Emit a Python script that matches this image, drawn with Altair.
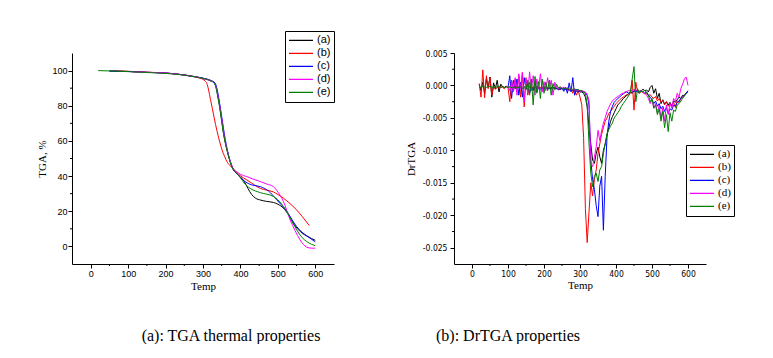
import altair as alt
import pandas as pd

SAMPLES = ["(a)", "(b)", "(c)", "(d)", "(e)"]
COLORS = ["#000000", "#ff0000", "#0000ff", "#ff00ff", "#008000"]

# ---------------- TGA curves (Temp, TGA %) ----------------
a_t = [50, 100, 150, 200, 250, 280, 300, 320, 330, 335, 340, 345, 350, 355, 360, 365, 370, 375, 380, 390,
       400, 410, 420, 430, 440, 455, 470, 488, 500, 515, 530, 541, 555, 565, 577, 590, 600]
a_v = [99.8, 99.5, 99.0, 98.6, 97.5, 96.5, 95.7, 94.3, 93.0, 90.5, 85.0, 79.0, 71.5, 64.0, 58.5, 54.0, 50.0, 46.5, 44.0, 41.5,
       39.5, 37.0, 33.0, 29.5, 27.5, 26.3, 25.6, 25.0, 24.0, 21.7, 17.5, 13.2, 9.5, 7.5, 6.0, 4.5, 3.5]
b_t = [60, 100, 150, 200, 250, 280, 300, 305, 310, 315, 320, 325, 330, 337, 344, 351, 358, 364, 372, 382,
       395, 408, 417, 430, 453, 470, 488, 500, 515, 530, 550, 565, 584]
b_v = [99.9, 99.6, 99.1, 98.6, 97.5, 96.3, 95.0, 94.2, 92.8, 89.0, 83.5, 78.5, 73.0, 66.0, 60.0, 54.8, 51.0, 48.2, 46.0, 43.9,
       41.0, 39.0, 37.8, 36.0, 33.0, 32.0, 31.0, 29.5, 27.4, 24.8, 20.8, 17.0, 11.9]
c_t = [50, 100, 150, 200, 250, 280, 300, 320, 332, 337, 342, 347, 352, 357, 362, 367, 372, 377, 382, 392,
       402, 415, 430, 453, 475, 497, 510, 524, 537, 550, 565, 586, 600]
c_v = [99.7, 99.5, 99.0, 98.6, 97.5, 96.5, 95.6, 94.5, 93.0, 90.0, 84.5, 78.0, 71.0, 64.0, 58.0, 53.0, 49.0, 46.0, 43.5, 41.0,
       38.8, 36.5, 35.0, 34.0, 31.5, 26.5, 23.5, 20.0, 15.5, 11.3, 8.0, 4.7, 2.6]
d_t = [110, 150, 200, 250, 280, 300, 320, 330, 335, 340, 345, 350, 355, 360, 365, 370, 375, 380, 390, 400,
       417, 435, 453, 470, 488, 500, 515, 533, 546, 559, 568, 577, 590, 600]
d_v = [99.3, 99.0, 98.6, 97.4, 96.4, 95.4, 94.2, 93.0, 90.5, 85.5, 79.5, 72.5, 65.0, 59.0, 54.5, 50.5, 47.0, 44.5, 42.5, 41.0,
       39.7, 38.2, 36.9, 35.5, 34.0, 31.0, 25.5, 15.0, 9.0, 3.8, 1.2, -0.4, -1.0, -1.0]
e_t = [20, 50, 100, 150, 200, 250, 280, 300, 320, 330, 335, 340, 345, 350, 355, 360, 365, 370, 375, 380,
       390, 400, 410, 426, 453, 488, 500, 515, 530, 550, 565, 577, 590, 600]
e_v = [100.0, 99.8, 99.4, 98.9, 98.4, 97.4, 96.4, 95.5, 94.2, 92.8, 90.0, 84.5, 78.5, 71.0, 64.0, 58.5, 54.0, 50.0, 46.5, 44.0,
       41.5, 39.0, 36.0, 33.0, 30.6, 28.4, 26.5, 22.7, 17.5, 9.5, 5.0, 2.8, 1.2, 0.4]

# ---------------- DrTGA curves (values in units of 0.001, 5-degree grid) ----------------
dr_step = 5
dr_start = [20, 20, 100, 100, 20]
dr_a = [0.2, -0.8, 0.5, -1.2, 1.0, -0.3, 1.3, -1.8, 0.4, -0.5, 0.8, -1.0, 0.2,
        -0.2, -0.3, -0.1, -0.4, -0.2, -0.3, -0.2, -0.4, -0.3, -0.2,
        -0.3, -0.4, -0.2, -0.3, -0.5, -0.2, -0.3, -0.4, -0.3, -0.2,
        -0.3, -0.4, -0.3, -0.2, -0.4, -0.3, -0.5, -0.3, -0.4, -0.3,
        -0.5, -0.4, -0.6, -0.5, -0.4, -0.6, -0.5, -0.7, -0.6, -0.8,
        -0.7, -0.9, -0.8, -1.0,
        -1.0, -1.2, -1.8, -3.3, -6.5, -9.0, -11.5, -12.0, -10.5, -9.5,
        -11.0, -12.0, -10.0, -9.0, -7.5, -6.5, -5.5, -4.8, -4.2, -3.6,
        -3.0, -2.7, -2.4, -2.0, -1.8, -1.5, -1.3, -1.0, -1.2, -0.8,
        -1.0, -0.7, -0.9, -0.8, -0.6, -0.8, -0.7, -1.0, -0.3, 0.0,
        -1.2, -0.5, -2.0, -1.2, -2.8, -2.2, -2.9, -2.5, -3.0, -2.6,
        -3.2, -2.4, -2.6, -2.2, -1.8, -2.0, -1.5, -1.6, -1.2, -1.0]
dr_b = [0.3, -1.8, 2.4, -1.9, 1.5,
        -0.5, 1.2, -1.5, -0.2, -0.6, -0.3, -0.4, -0.2, -0.3, -0.5, -0.2,
        -0.3, -2.5, 0.8, -1.0, 1.0, -0.6, 1.5, -1.8, 2.0, -3.3, 1.2, -1.5, 0.5,
        -0.4, -0.3, -0.5, -0.2, -0.4, -0.3, -0.5, -0.4, -0.3, -0.5,
        -0.4, -0.6, -0.3, -0.5, -0.4, -0.6, -0.5, -0.4, -0.7, -0.5,
        -0.6, -0.8, -0.5, -1.2, -0.6, -1.5,
        -0.8, -1.8, -3.0, -8.0, -19.0, -24.2, -19.5, -15.0, -17.0, -14.5,
        -13.0, -10.5, -9.0, -7.5, -6.5, -5.5, -5.0, -4.3, -4.0, -3.6,
        -3.2, -2.8, -2.5, -2.2, -2.0, -1.8, -1.6, -1.4, -1.5, -1.2,
        0.8, -3.8, 0.5, -1.0, -1.2, -0.9, -1.1, -1.3, -1.2, -1.6,
        -1.4, -1.8, -2.0, -1.7, -2.4, -2.0, -2.6, -2.3, -3.0, -2.5,
        -3.2, -2.8, -3.0, -2.6, -3.4, -2.4, -2.6, -2.0, -1.8, -1.4,
        -1.2, -1.0]
dr_c = [-0.3, 1.5, -2.0, 0.8, -0.5, 1.0, -1.5, 0.5, -1.8, 1.2,
        -0.6, 0.3, -1.2, -0.2, -0.8, 0.6, -1.0, -0.3, -0.6, -0.4,
        -0.5, -0.3, -0.6, -0.4, -0.5, -0.3, -0.6, -0.4, -0.7, -0.5,
        -0.4, -0.9, -0.3, -1.2, 0.4, -1.0, 1.2, -1.5, -0.6, -1.0, -0.8,
        -0.9, -1.0, -1.2, -1.5, -3.0, -11.5, -14.5, -16.0, -18.5, -20.2,
        -15.5, -14.0, -22.3, -14.0, -8.0, -5.5, -4.0, -3.2, -2.6, -2.3,
        -2.0, -1.8, -1.5, -1.3, -1.1, -1.0, -1.2, -0.9, -1.1, -0.8,
        -1.0, -0.9, -1.1, -0.8, -1.0, -1.2, -1.0, -1.5, -1.8, -2.2,
        -2.8, -2.4, -3.2, -2.8, -3.6, -3.2, -4.0, -3.4, -4.3, -3.6,
        -3.8, -3.0, -3.2, -2.6, -2.4, -2.0, -1.8, -1.5, -1.2, -0.8]
dr_d = [-0.2, -0.8, 0.5, -1.0, 1.2, -1.5, 1.8, -0.6, 2.0, -2.5,
        1.0, -1.2, 2.1, -0.8, 1.5, -1.5, 1.0, -0.5, 1.8, -1.0,
        0.6, -0.8, 1.2, -0.4, 0.8, -1.5, 0.5, -0.3, -0.5, -0.2,
        -0.4, -0.3, -0.5, -0.4, -0.6, -0.5, -0.7, -0.6, -0.8, -0.7, -0.9,
        -0.8, -0.9, -1.0, -1.4, -2.3, -12.0, -12.5, -11.0, -9.5, -6.9,
        -8.5, -7.0, -5.8, -5.0, -4.0, -3.4, -2.8, -2.4, -2.1, -1.9,
        -1.7, -1.5, -1.3, -1.2, -1.0, -0.9, -0.8, -0.7, -0.8, -0.6,
        -0.8, -0.7, -0.9, -0.8, -1.0, -1.2, -1.5, -2.0, -2.8, -2.2,
        -3.5, -2.8, -4.2, -3.0, -5.0, -3.5, -5.5, -3.0, -4.5, -2.8,
        -3.5, -2.0, -2.5, -1.2, -1.8, -0.5, 0.2, 1.0, 1.3, 0.0]
dr_e = [-0.2, -0.3, -0.1, -0.2, -0.3, -0.2, -0.1, -0.3, -0.2, -0.3,
        -0.2, -0.1, -0.3, -0.2, -0.3, -0.2, -0.3, -0.2, -0.4, -0.3,
        -0.2, -0.4, -0.3, -0.2, -0.5, -0.3, -0.6,
        0.8, -1.5, 1.0, -3.0, 1.4, -1.2, 0.6, -2.0, 1.0, -1.2,
        0.5, -0.8, 0.8, -1.5, 0.3, -0.6, 0.2, -0.4, -0.2, -0.5,
        -0.4, -0.5, -0.4, -0.6, -0.5, -0.6, -0.5, -0.7, -0.6, -0.8,
        -0.8, -1.0, -1.2, -3.0, -9.0, -13.5, -15.6, -14.0, -13.5, -14.8,
        -13.0, -12.5, -10.5, -9.0, -7.5, -6.8, -6.2, -5.8, -5.0, -4.6,
        -4.2, -3.8, -3.2, -2.8, -2.4, -2.0, -1.6, -1.0, 1.0, 2.9,
        -2.5, -0.5, -1.2, -0.8, -1.0, -0.7, -1.2, -1.5, -2.5, -2.0,
        -3.5, -3.0, -4.5, -3.6, -5.5, -4.0, -6.5, -4.5, -7.1, -4.2,
        -5.5, -3.8, -4.0, -3.0, -2.8, -2.4, -2.0, -1.6, -1.3, -1.0]

# minor tick positions
x_minor = [50, 150, 250, 350, 450, 550]
tga_minor = [10, 30, 50, 70, 90]
dr_minor = [-0.0225, -0.0175, -0.0125, -0.0075, -0.0025, 0.0025]

# ---------------- tables ----------------
rows = []
for name, ts, vs in zip(SAMPLES, [a_t, b_t, c_t, d_t, e_t], [a_v, b_v, c_v, d_v, e_v]):
    for t, v in zip(ts, vs):
        rows.append({"Temp": t, "TGA": v, "Sample": name})
tga_df = pd.DataFrame(rows)

rows = []
for name, start, vals in zip(SAMPLES, dr_start, [dr_a, dr_b, dr_c, dr_d, dr_e]):
    for i, v in enumerate(vals):
        rows.append({"Temp": start + dr_step * i, "DrTGA": v / 1000.0, "Sample": name})
dr_df = pd.DataFrame(rows)

SERIF = "Liberation Serif"
SANS = "Liberation Sans"
NARROW = "Liberation Sans Narrow, DejaVu Sans Condensed, Arial Narrow, sans-serif"

XDOM = [-50, 650]
W_L, W_R, H = 262, 252, 211

def x_axis(font, size):
    return alt.Axis(values=[0, 100, 200, 300, 400, 500, 600], title="Temp", grid=False,
                    tickSize=4, labelFont=font, labelFontSize=size, labelPadding=1,
                    titleFont=SERIF, titleFontSize=11, titleFontWeight="normal", titlePadding=2)

def legend(x, y, font):
    return alt.Legend(title=None, orient="none", legendX=x, legendY=y, direction="vertical",
                      symbolType="stroke", symbolSize=576, symbolStrokeWidth=1.3,
                      labelFont=font, labelFontSize=11, labelColor="black", labelOffset=3,
                      strokeColor="black", fillColor="white", padding=3, rowPadding=0,
                      clipHeight=12.6, cornerRadius=0)

# ---------------- left panel: TGA ----------------
tga_yaxis = alt.Axis(values=[0, 20, 40, 60, 80, 100], title="TGA, %", grid=False, tickSize=4,
                     labelFont=SANS, labelFontSize=9, labelPadding=1,
                     titleFont=SERIF, titleFontSize=11, titleFontWeight="normal", titlePadding=4)
tga_lines = alt.Chart(tga_df).mark_line(strokeWidth=1, interpolate="monotone").encode(
    x=alt.X("Temp:Q", scale=alt.Scale(domain=XDOM, nice=False, zero=False), axis=x_axis(SANS, 9)),
    y=alt.Y("TGA:Q", scale=alt.Scale(domain=[-10, 110], nice=False), axis=tga_yaxis),
    color=alt.Color("Sample:N", scale=alt.Scale(domain=SAMPLES, range=COLORS), sort=SAMPLES,
                    legend=legend(213, -22, SANS)),
    order=alt.Order("Temp:Q"),
)
tga_xminor = alt.Chart(pd.DataFrame({"Temp": x_minor})).mark_rule(color="black", strokeWidth=1).encode(
    x=alt.X("Temp:Q", scale=alt.Scale(domain=XDOM, nice=False, zero=False), axis=x_axis(SANS, 9)),
    y=alt.value(H), y2=alt.value(H + 2))
tga_yminor = alt.Chart(pd.DataFrame({"TGA": tga_minor})).mark_rule(color="black", strokeWidth=1).encode(
    y=alt.Y("TGA:Q", scale=alt.Scale(domain=[-10, 110], nice=False), axis=tga_yaxis),
    x=alt.value(0), x2=alt.value(-2))

left = alt.layer(tga_lines, tga_xminor, tga_yminor).properties(
    width=W_L, height=H,
    title=alt.TitleParams("(a): TGA thermal properties", orient="bottom", anchor="middle",
                          font=SERIF, fontSize=16, fontWeight="normal", color="black",
                          dx=28, offset=37))

# ---------------- right panel: DrTGA ----------------
dr_yaxis = alt.Axis(values=[-0.025, -0.02, -0.015, -0.01, -0.005, 0.0, 0.005], title="DrTGA", grid=False,
                    tickSize=4, labelFont=NARROW, labelFontSize=8.5, labelPadding=3,
                    labelExpr="replace(format(datum.value, '.3f'), '\u2212', '-')",
                    titleFont=SERIF, titleFontSize=11, titleFontWeight="normal", titlePadding=6)
DR_DOM = [-0.0275, 0.005]
dr_lines = alt.Chart(dr_df).mark_line(strokeWidth=1).encode(
    x=alt.X("Temp:Q", scale=alt.Scale(domain=XDOM, nice=False, zero=False), axis=x_axis(NARROW, 8.5)),
    y=alt.Y("DrTGA:Q", scale=alt.Scale(domain=DR_DOM, nice=False, zero=False), axis=dr_yaxis),
    color=alt.Color("Sample:N", scale=alt.Scale(domain=SAMPLES, range=COLORS), sort=SAMPLES,
                    legend=legend(232, 92, SERIF)),
    order=alt.Order("Temp:Q"),
)
dr_xminor = alt.Chart(pd.DataFrame({"Temp": x_minor})).mark_rule(color="black", strokeWidth=1).encode(
    x=alt.X("Temp:Q", scale=alt.Scale(domain=XDOM, nice=False, zero=False), axis=x_axis(NARROW, 8.5)),
    y=alt.value(H), y2=alt.value(H + 2))
dr_yminor = alt.Chart(pd.DataFrame({"DrTGA": dr_minor})).mark_rule(color="black", strokeWidth=1).encode(
    y=alt.Y("DrTGA:Q", scale=alt.Scale(domain=DR_DOM, nice=False, zero=False), axis=dr_yaxis),
    x=alt.value(0), x2=alt.value(-2))

right = alt.layer(dr_lines, dr_xminor, dr_yminor).properties(
    width=W_R, height=H,
    title=alt.TitleParams("(b): DrTGA properties", orient="bottom", anchor="middle",
                          font=SERIF, fontSize=16, fontWeight="normal", color="black",
                          dx=-72, offset=37))

chart = alt.hconcat(left, right, spacing=120, bounds="flush").resolve_scale(
    color="independent"
).resolve_legend(
    color="independent"
).properties(
    padding={"left": 28, "top": 22, "right": 0, "bottom": 0},
    background="white",
).configure_view(stroke=None).configure_axis(
    domainColor="black", tickColor="black", labelColor="black", titleColor="black", domainWidth=1, tickWidth=1
)

chart.save("out.html", embed_options={"renderer": "svg", "actions": False})
